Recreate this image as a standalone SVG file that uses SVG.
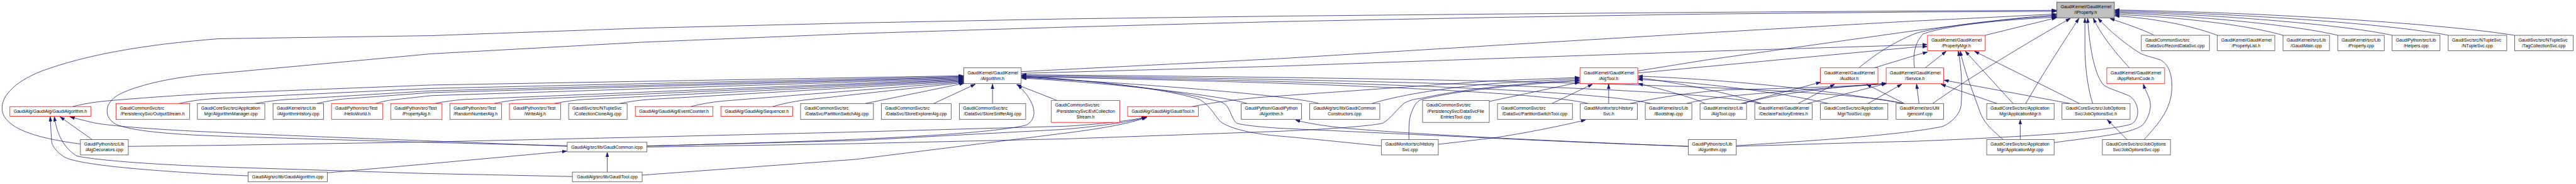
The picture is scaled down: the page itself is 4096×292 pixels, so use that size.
<svg xmlns="http://www.w3.org/2000/svg" width="4096" height="292" viewBox="0 0 4096 292">
<defs>
<style>
.n rect{fill:#fff;stroke:#404040;stroke-width:1.4}
.r rect{stroke:#ff0000}
.g rect{fill:#bfbfbf}
text{font-family:"Liberation Sans",Arial,Helvetica,sans-serif;font-size:13px;fill:#000}
.m{text-anchor:middle}
#edges path{fill:none;stroke:#191970;stroke-width:1.4;marker-end:url(#ah)}
</style>
<marker id="ah" viewBox="0 0 14 10" refX="13" refY="5" markerWidth="14" markerHeight="10" markerUnits="userSpaceOnUse" orient="auto"><path d="M0,0.5 L14,5 L0,9.5 z" fill="#191970" stroke="#191970" stroke-width="1"/></marker>
</defs>
<rect x="0" y="0" width="4096" height="292" fill="#fff"/>
<g transform="scale(0.544)">
<g id="edges">
<path d="M235,420 C120,405 25,380 8,330 C-4,285 40,240 120,208 C250,160 420,130 640,113 L1260,104 L1880,82 L2500,67 L3120,55 L3740,47 L4360,41 L4980,36 L5600,32 L6010,30"/>
<path d="M1658,425 C1300,418 900,405 640,397 C500,392 380,382 338,362 C305,345 300,300 351,274 C410,245 520,222 640,214 L1260,157 L1880,123 L2500,98 L3120,79 L3740,63 L4360,51 L4980,41 L5600,35 L6010,33"/>
<path d="M212,311 C260,299 300,295 340,292 C450,283 550,276 640,272 L1260,248 L2815,221"/>
<path d="M520,303 C560,293 600,289 640,287 L1260,258 L2815,223"/>
<path d="M746,302 C790,294 830,290 865,289 L1260,265 L2815,225"/>
<path d="M926,302 C960,294 990,289 1028,287 L1260,270 L2815,227"/>
<path d="M1098,302 C1120,296 1135,292 1151,291 L1260,279 L2815,229"/>
<path d="M1271,302 C1300,296 1330,292 1360,290 L2815,231"/>
<path d="M1444,302 C1470,296 1500,292 1530,290 L2815,233"/>
<path d="M1620,302 C1650,296 1680,292 1710,290 L2815,235"/>
<path d="M1811,302 C1840,296 1870,292 1900,290 L2815,237"/>
<path d="M2019,311 C2050,303 2080,298 2110,295 L2815,239"/>
<path d="M2258,311 C2290,302 2320,296 2350,292 L2815,241"/>
<path d="M2529,302 L2817,243"/>
<path d="M2729,302 L2850,246"/>
<path d="M2901,302 L2901,246"/>
<path d="M3090,293 L2972,247"/>
<path d="M1891,426 C2300,415 2850,400 3000,365 C3035,345 3030,300 2975,248"/>
<path d="M3645,302 C3600,285 3300,245 2987,228"/>
<path d="M3855,302 C3800,284 3450,250 2987,226"/>
<path d="M4642,302 C4550,278 4100,245 2987,224"/>
<path d="M4826,302 C4700,272 4200,242 2987,222"/>
<path d="M5148,302 C5000,268 4400,238 2987,220"/>
<path d="M5564,302 C5400,262 4700,232 2987,218"/>
<path d="M4038,426 C3900,412 3780,400 3740,397 C3650,390 3590,372 3569,356 C3555,345 3540,310 3508,291 C3400,255 3150,232 2987,222"/>
<path d="M4935,427 C4600,415 4400,405 4360,403 L3740,374 C3680,370 3630,365 3614,359 C3605,352 3598,330 3590,315 C3580,300 3570,297 3550,293 C3400,255 3150,232 2987,224"/>
<path d="M2985,209 L3740,171 L4360,133 L4980,96 L5600,61 C5800,52 5900,46 6010,41"/>
<path d="M2985,214 L3740,193 L4360,171 L4980,150 L5600,131 L5632,130"/>
<path d="M4787,207 L4980,176 L5600,89 C5800,65 5900,50 6010,44"/>
<path d="M4787,213 L4980,195 L5600,137 L5632,136"/>
<path d="M5433,198 C5480,160 5530,125 5600,97 C5700,70 5900,52 6010,47"/>
<path d="M5478,198 L5600,161 L5633,152"/>
<path d="M5596,198 C5592,170 5592,130 5621,99 C5700,70 5900,55 6012,50"/>
<path d="M5627,198 L5688,150"/>
<path d="M5802,103 L6010,52"/>
<path d="M5649,302 C5750,230 5950,110 6051,54"/>
<path d="M5921,302 C5980,200 6040,110 6076,54"/>
<path d="M6117,302 C6105,270 6094,200 6094,137 L6094,54"/>
<path d="M5075,427 C5300,420 5500,414 5600,412 C5900,400 6150,385 6230,362 C6258,345 6252,300 6226,281 C6200,268 6158,258 6147,246 C6125,220 6108,150 6102,54"/>
<path d="M6004,416 C6100,402 6230,392 6262,365 C6282,345 6290,310 6283,290 C6278,275 6270,262 6265,246"/>
<path d="M6224,198 C6180,150 6140,100 6119,54"/>
<path d="M6267,407 C6310,360 6345,320 6348,260 C6350,210 6335,185 6313,174 C6285,165 6265,162 6250,152 C6215,130 6165,90 6133,54"/>
<path d="M6295,102 C6260,85 6220,72 6168,54"/>
<path d="M6481,103 C6420,80 6320,55 6182,46"/>
<path d="M6673,103 C6580,75 6380,50 6182,42"/>
<path d="M6833,103 C6720,75 6420,45 6182,38"/>
<path d="M6992,103 C6870,75 6500,42 6182,35"/>
<path d="M7156,103 C7020,75 6600,40 6182,32"/>
<path d="M7349,103 C7180,75 6700,38 6182,29"/>
<path d="M5884,302 L5745,150"/>
<path d="M6078,302 L5772,150"/>
<path d="M5855,407 C5810,370 5795,350 5785,320 C5760,250 5740,200 5730,150"/>
<path d="M5075,425 C5300,410 5550,395 5678,369 C5705,357 5728,335 5732,308 C5736,260 5734,200 5724,150"/>
<path d="M5609,302 L5602,246"/>
<path d="M5837,302 L5674,246"/>
<path d="M6051,302 L5683,234"/>
<path d="M5460,302 L5558,246"/>
<path d="M5282,302 L5513,244"/>
<path d="M4764,302 C4850,284 4950,268 5050,262 C5300,256 5450,250 5513,243"/>
<path d="M4930,302 C4960,294 5000,287 5050,281 C5250,262 5420,252 5513,244"/>
<path d="M5095,302 C5200,270 5400,250 5513,244"/>
<path d="M5089,302 L5321,240"/>
<path d="M5256,302 L5362,246"/>
<path d="M5566,302 L5456,246"/>
<path d="M4702,302 L4702,246"/>
<path d="M4536,302 L4654,246"/>
<path d="M4353,296 L4616,240"/>
<path d="M3484,311 C3550,298 3650,285 3740,280 L4360,236 L4616,226"/>
<path d="M4010,302 C4100,274 4250,254 4360,244 L4616,229"/>
<path d="M1891,429 L2500,419 L3120,405 L3740,383 C3900,376 4020,366 4042,359 C4060,350 4075,328 4104,301 C4120,292 4140,288 4153,287 C4250,265 4400,246 4616,233"/>
<path d="M4118,407 C4118,370 4118,345 4125,330 C4132,310 4140,296 4153,291 C4250,265 4450,245 4616,236"/>
<path d="M4984,302 C4950,285 4850,258 4789,244"/>
<path d="M5344,302 C5200,268 4950,238 4789,232"/>
<path d="M5148,302 C5050,270 4900,240 4789,227"/>
<path d="M5564,302 C5300,255 5000,230 4789,222"/>
<path d="M375,427 L640,424 L1260,414 L1880,400 L2500,385 L3120,368 C3220,362 3300,352 3350,342"/>
<path d="M1891,426 L2500,410 L3100,378 C3200,370 3300,357 3350,342"/>
<path d="M1876,511 L2500,465 L3100,390 C3200,378 3300,362 3352,342"/>
<path d="M269,407 L176,341"/>
<path d="M1673,515 L1240,506 L640,487 C400,478 270,465 224,455 C185,430 166,390 159,341"/>
<path d="M725,513 L620,508 C400,495 230,480 188,458 C160,440 150,420 151,410 C149,385 148,365 147,341"/>
<path d="M1658,427 C1300,412 800,395 640,386 C450,378 300,366 265,356 C240,350 220,345 205,341"/>
<path d="M957,504 L1240,479 L1656,441"/>
<path d="M1775,502 L1775,445"/>
<path d="M4204,421 L4360,403 C4450,390 4560,368 4634,350"/>
<path d="M4935,427 C4500,410 4100,390 3924,373 C3860,366 3810,357 3787,350"/>
<path d="M5905,407 L5905,350"/>
<path d="M6217,407 L6160,350"/>
</g>
<g id="n_iprop" class="n g"><rect x="6012" y="6" width="168" height="46"/><text x="6023" y="24">GaudiKernel/GaudiKernel</text><text class="m" x="6096" y="41">/IProperty.h</text></g>
<g id="n_pmgr" class="n r"><rect x="5634" y="103" width="168" height="45"/><text x="5645" y="121">GaudiKernel/GaudiKernel</text><text class="m" x="5718" y="138">/PropertyMgr.h</text></g>
<g id="n_rds" class="n"><rect x="6259" y="103" width="199" height="45"/><text x="6270" y="121">GaudiCommonSvc/src</text><text class="m" x="6358" y="138">/DataSvc/RecordDataSvc.cpp</text></g>
<g id="n_plist" class="n"><rect x="6481" y="103" width="168" height="45"/><text x="6492" y="121">GaudiKernel/GaudiKernel</text><text class="m" x="6565" y="138">/PropertyList.h</text></g>
<g id="n_gmain" class="n"><rect x="6673" y="103" width="136" height="45"/><text x="6684" y="121">GaudiKernel/src/Lib</text><text class="m" x="6741" y="138">/GaudiMain.cpp</text></g>
<g id="n_prop" class="n"><rect x="6833" y="103" width="136" height="45"/><text x="6844" y="121">GaudiKernel/src/Lib</text><text class="m" x="6901" y="138">/Property.cpp</text></g>
<g id="n_help" class="n"><rect x="6992" y="103" width="140" height="45"/><text x="7003" y="121">GaudiPython/src/Lib</text><text class="m" x="7062" y="138">/Helpers.cpp</text></g>
<g id="n_ntup" class="n"><rect x="7156" y="103" width="171" height="45"/><text x="7167" y="121">GaudiSvc/src/NTupleSvc</text><text class="m" x="7241" y="138">/NTupleSvc.cpp</text></g>
<g id="n_tag" class="n"><rect x="7350" y="103" width="171" height="45"/><text x="7361" y="121">GaudiSvc/src/NTupleSvc</text><text class="m" x="7435" y="138">/TagCollectionSvc.cpp</text></g>
<g id="n_alg" class="n"><rect x="2817" y="198" width="168" height="46"/><text x="2828" y="216">GaudiKernel/GaudiKernel</text><text class="m" x="2901" y="233">/Algorithm.h</text></g>
<g id="n_algtool" class="n r"><rect x="4618" y="198" width="169" height="46"/><text x="4629" y="216">GaudiKernel/GaudiKernel</text><text class="m" x="4702" y="233">/AlgTool.h</text></g>
<g id="n_aud" class="n r"><rect x="5321" y="198" width="168" height="46"/><text x="5332" y="216">GaudiKernel/GaudiKernel</text><text class="m" x="5405" y="233">/Auditor.h</text></g>
<g id="n_svc" class="n r"><rect x="5513" y="198" width="168" height="46"/><text x="5524" y="216">GaudiKernel/GaudiKernel</text><text class="m" x="5597" y="233">/Service.h</text></g>
<g id="n_arc" class="n r"><rect x="6158" y="198" width="169" height="46"/><text x="6169" y="216">GaudiKernel/GaudiKernel</text><text class="m" x="6242" y="233">/AppReturnCode.h</text></g>
<g id="n_galgh" class="n r"><rect x="29" y="311" width="237" height="28"/><text class="m" x="147" y="329.5">GaudiAlg/GaudiAlg/GaudiAlgorithm.h</text></g>
<g id="n_outs" class="n r"><rect x="339" y="302" width="215" height="46"/><text x="350" y="320">GaudiCommonSvc/src</text><text class="m" x="446" y="337">/PersistencySvc/OutputStream.h</text></g>
<g id="n_algmgr" class="n"><rect x="577" y="302" width="197" height="46"/><text x="588" y="320">GaudiCoreSvc/src/Application</text><text class="m" x="675" y="337">Mgr/AlgorithmManager.cpp</text></g>
<g id="n_alghist" class="n"><rect x="798" y="302" width="148" height="46"/><text x="809" y="320">GaudiKernel/src/Lib</text><text class="m" x="872" y="337">/AlgorithmHistory.cpp</text></g>
<g id="n_hello" class="n r"><rect x="969" y="302" width="150" height="46"/><text x="980" y="320">GaudiPython/src/Test</text><text class="m" x="1044" y="337">/HelloWorld.h</text></g>
<g id="n_palg" class="n r"><rect x="1142" y="302" width="150" height="46"/><text x="1153" y="320">GaudiPython/src/Test</text><text class="m" x="1217" y="337">/PropertyAlg.h</text></g>
<g id="n_rnd" class="n r"><rect x="1315" y="302" width="151" height="46"/><text x="1326" y="320">GaudiPython/src/Test</text><text class="m" x="1390" y="337">/RandomNumberAlg.h</text></g>
<g id="n_write" class="n r"><rect x="1489" y="302" width="150" height="46"/><text x="1500" y="320">GaudiPython/src/Test</text><text class="m" x="1564" y="337">/WriteAlg.h</text></g>
<g id="n_ccl" class="n"><rect x="1662" y="302" width="171" height="46"/><text x="1673" y="320">GaudiSvc/src/NTupleSvc</text><text class="m" x="1747" y="337">/CollectionCloneAlg.cpp</text></g>
<g id="n_evc" class="n r"><rect x="1857" y="311" width="227" height="28"/><text class="m" x="1970" y="329.5">GaudiAlg/GaudiAlg/EventCounter.h</text></g>
<g id="n_seq" class="n r"><rect x="2107" y="311" width="210" height="28"/><text class="m" x="2212" y="329.5">GaudiAlg/GaudiAlg/Sequencer.h</text></g>
<g id="n_psalg" class="n"><rect x="2340" y="302" width="213" height="46"/><text x="2351" y="320">GaudiCommonSvc/src</text><text class="m" x="2446" y="337">/DataSvc/PartitionSwitchAlg.cpp</text></g>
<g id="n_sexp" class="n"><rect x="2576" y="302" width="204" height="46"/><text x="2587" y="320">GaudiCommonSvc/src</text><text class="m" x="2678" y="337">/DataSvc/StoreExplorerAlg.cpp</text></g>
<g id="n_ssn" class="n"><rect x="2804" y="302" width="194" height="46"/><text x="2815" y="320">GaudiCommonSvc/src</text><text class="m" x="2901" y="337">/DataSvc/StoreSnifferAlg.cpp</text></g>
<g id="n_ecs" class="n r"><rect x="3073" y="293" width="200" height="64"/><text x="3084" y="311">GaudiCommonSvc/src</text><text class="m" x="3173" y="328.5">/PersistencySvc/EvtCollection</text><text class="m" x="3173" y="346">Stream.h</text></g>
<g id="n_gtoolh" class="n r"><rect x="3296" y="311" width="207" height="28"/><text class="m" x="3399" y="329.5">GaudiAlg/GaudiAlg/GaudiTool.h</text></g>
<g id="n_gpalgh" class="n"><rect x="3628" y="302" width="176" height="46"/><text x="3639" y="320">GaudiPython/GaudiPython</text><text class="m" x="3716" y="337">/Algorithm.h</text></g>
<g id="n_gcc" class="n"><rect x="3828" y="302" width="205" height="46"/><text x="3839" y="320">GaudiAlg/src/lib/GaudiCommon</text><text class="m" x="3930" y="337">Constructors.cpp</text></g>
<g id="n_dsfe" class="n"><rect x="4158" y="293" width="195" height="64"/><text x="4169" y="311">GaudiCommonSvc/src</text><text class="m" x="4255" y="328.5">/PersistencySvc/DataSvcFile</text><text class="m" x="4255" y="346">EntriesTool.cpp</text></g>
<g id="n_pstool" class="n"><rect x="4377" y="302" width="219" height="46"/><text x="4388" y="320">GaudiCommonSvc/src</text><text class="m" x="4486" y="337">/DataSvc/PartitionSwitchTool.cpp</text></g>
<g id="n_hsvch" class="n"><rect x="4619" y="302" width="167" height="46"/><text x="4630" y="320">GaudiMonitor/src/History</text><text class="m" x="4702" y="337">Svc.h</text></g>
<g id="n_boot" class="n"><rect x="4809" y="302" width="136" height="46"/><text x="4820" y="320">GaudiKernel/src/Lib</text><text class="m" x="4877" y="337">/Bootstrap.cpp</text></g>
<g id="n_algtoolcpp" class="n"><rect x="4969" y="302" width="136" height="46"/><text x="4980" y="320">GaudiKernel/src/Lib</text><text class="m" x="5037" y="337">/AlgTool.cpp</text></g>
<g id="n_dfe" class="n"><rect x="5129" y="302" width="168" height="46"/><text x="5140" y="320">GaudiKernel/GaudiKernel</text><text class="m" x="5213" y="337">/DeclareFactoryEntries.h</text></g>
<g id="n_toolsvc" class="n"><rect x="5321" y="302" width="197" height="46"/><text x="5332" y="320">GaudiCoreSvc/src/Application</text><text class="m" x="5419" y="337">Mgr/ToolSvc.cpp</text></g>
<g id="n_genconf" class="n"><rect x="5542" y="302" width="139" height="46"/><text x="5553" y="320">GaudiKernel/src/Util</text><text class="m" x="5611" y="337">/genconf.cpp</text></g>
<g id="n_appmgrh" class="n"><rect x="5807" y="302" width="197" height="46"/><text x="5818" y="320">GaudiCoreSvc/src/Application</text><text class="m" x="5905" y="337">Mgr/ApplicationMgr.h</text></g>
<g id="n_josh" class="n"><rect x="6027" y="302" width="199" height="46"/><text x="6038" y="320">GaudiCoreSvc/src/JobOptions</text><text class="m" x="6126" y="337">Svc/JobOptionsSvc.h</text></g>
<g id="n_algdec" class="n"><rect x="235" y="407" width="140" height="45"/><text x="246" y="425">GaudiPython/src/Lib</text><text class="m" x="305" y="442">/AlgDecorators.cpp</text></g>
<g id="n_gcom" class="n"><rect x="1658" y="415" width="233" height="28"/><text class="m" x="1774" y="433.5">GaudiAlg/src/lib/GaudiCommon.icpp</text></g>
<g id="n_hsvccpp" class="n"><rect x="4038" y="407" width="166" height="45"/><text x="4049" y="425">GaudiMonitor/src/History</text><text class="m" x="4121" y="442">Svc.cpp</text></g>
<g id="n_gpalgcpp" class="n"><rect x="4935" y="407" width="140" height="45"/><text x="4946" y="425">GaudiPython/src/Lib</text><text class="m" x="5005" y="442">/Algorithm.cpp</text></g>
<g id="n_appmgrcpp" class="n"><rect x="5807" y="407" width="197" height="45"/><text x="5818" y="425">GaudiCoreSvc/src/Application</text><text class="m" x="5905" y="442">Mgr/ApplicationMgr.cpp</text></g>
<g id="n_joscpp" class="n"><rect x="6145" y="407" width="199" height="45"/><text x="6156" y="425">GaudiCoreSvc/src/JobOptions</text><text class="m" x="6244" y="442">Svc/JobOptionsSvc.cpp</text></g>
<g id="n_galgcpp" class="n"><rect x="725" y="502" width="232" height="28"/><text class="m" x="841" y="520.5">GaudiAlg/src/lib/GaudiAlgorithm.cpp</text></g>
<g id="n_gtoolcpp" class="n"><rect x="1673" y="502" width="204" height="28"/><text class="m" x="1775" y="520.5">GaudiAlg/src/lib/GaudiTool.cpp</text></g>
</g>
</svg>
